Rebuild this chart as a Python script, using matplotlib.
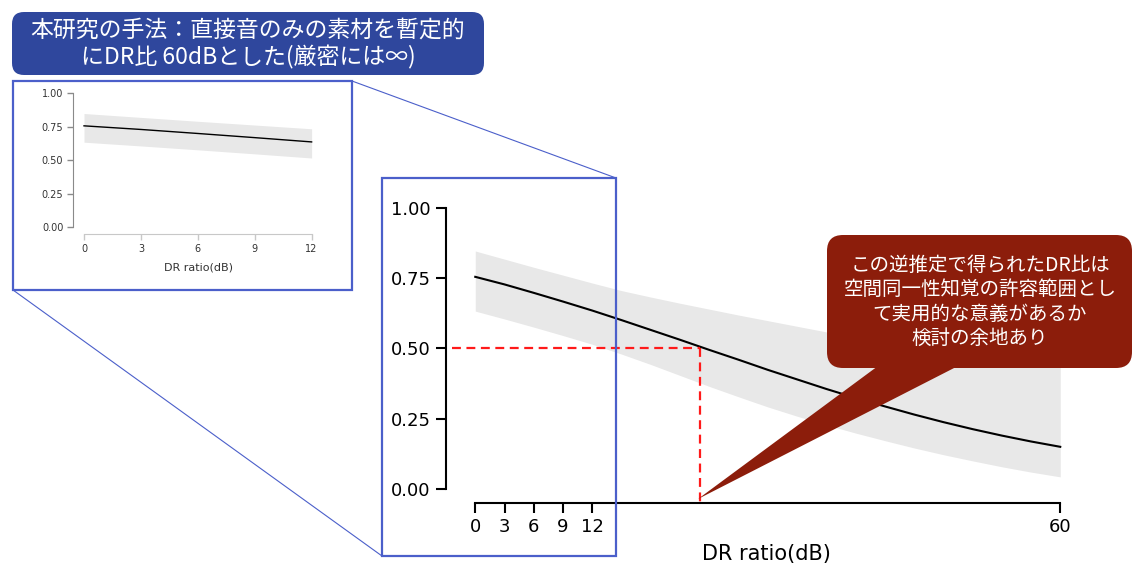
import matplotlib
matplotlib.use("Agg")
import matplotlib.pyplot as plt
from matplotlib.patches import FancyBboxPatch, Polygon, Rectangle

# 推定された確率曲線と95%信頼帯 (DR比 3dB刻み)
dr_db = [0, 3, 6, 9, 12, 15, 18, 21, 24, 27, 30, 33, 36, 39, 42, 45, 48, 51, 54, 57, 60]
prob = [0.755, 0.728, 0.698, 0.667, 0.635, 0.601, 0.566, 0.531, 0.495, 0.460, 0.424,
        0.390, 0.356, 0.324, 0.294, 0.265, 0.238, 0.213, 0.190, 0.169, 0.150]
ci_lo = [0.633, 0.605, 0.576, 0.546, 0.515, 0.480, 0.443, 0.404, 0.365, 0.328, 0.292,
         0.259, 0.228, 0.199, 0.172, 0.146, 0.122, 0.100, 0.079, 0.060, 0.043]
ci_hi = [0.847, 0.818, 0.789, 0.761, 0.733, 0.706, 0.683, 0.661, 0.640, 0.619, 0.599,
         0.579, 0.559, 0.541, 0.524, 0.508, 0.493, 0.479, 0.466, 0.454, 0.443]

yticks = [0.00, 0.25, 0.50, 0.75, 1.00]
main_xticks = [0, 3, 6, 9, 12, 60]
inset_xticks = [0, 3, 6, 9, 12]

# 逆推定: p = 0.5 となるDR比
dr_est = 23
p_est = 0.50

title_text = "本研究の手法：直接音のみの素材を暫定的\nにDR比 60dBとした(厳密には∞)"
note_text = "この逆推定で得られたDR比は\n空間同一性知覚の許容範囲とし\nて実用的な意義があるか\n検討の余地あり"
xlabel = "DR ratio(dB)"

W, H = 1134, 567
JP = ["Noto Sans CJK JP", "DejaVu Sans"]
BAND = "#e8e8e8"
FRAME = "#4b5fca"

fig = plt.figure(figsize=(W / 100, H / 100), dpi=100)


def px_axes(left, top, right, bottom):
    """ピクセル座標(左上原点)からaxesを作る"""
    return fig.add_axes([left / W, 1 - bottom / H, (right - left) / W, (bottom - top) / H])


# ---- メインの図 ----
ax = px_axes(446, 208, 1070, 503)
ax.fill_between(dr_db, ci_lo, ci_hi, color=BAND, lw=0)
ax.plot(dr_db, prob, color="black", lw=1.5)
ax.plot([-2.4, dr_est], [p_est, p_est], color="#ff1a1a", lw=1.6, dashes=(4, 2.5))
ax.plot([dr_est, dr_est], [p_est, -0.05], color="#ff1a1a", lw=1.6, dashes=(4, 2.5),
        clip_on=False)
ax.set_xlim(-3, 61)
ax.set_ylim(-0.05, 1.0)
ax.set_xticks(main_xticks)
ax.set_yticks(yticks)
ax.set_yticklabels([f"{v:.2f}" for v in yticks])
for s in ["top", "right"]:
    ax.spines[s].set_visible(False)
ax.spines["left"].set_bounds(0, 1)
ax.spines["bottom"].set_bounds(0, 60)
for s in ["left", "bottom"]:
    ax.spines[s].set_linewidth(1.5)
ax.tick_params(length=7, width=1.5, labelsize=13, pad=4)
ax.set_xlabel(xlabel, fontsize=15)
ax.xaxis.set_label_coords(0.513, -0.14)
ax.patch.set_alpha(0)

# ---- 左上の元の図 (0-12dB) ----
n12 = dr_db.index(12) + 1
axi = px_axes(73, 93, 323, 234)
axi.fill_between(dr_db[:n12], ci_lo[:n12], ci_hi[:n12], color=BAND, lw=0)
axi.plot(dr_db[:n12], prob[:n12], color="black", lw=1.0)
axi.set_xlim(-0.58, 12.6)
axi.set_ylim(-0.052, 1.0)
axi.set_xticks(inset_xticks)
axi.set_yticks(yticks)
axi.set_yticklabels([f"{v:.2f}" for v in yticks])
for s in ["top", "right"]:
    axi.spines[s].set_visible(False)
axi.spines["left"].set_bounds(0, 1)
axi.spines["bottom"].set_bounds(0, 12)
axi.spines["left"].set_color("#8a8a8a")
axi.spines["bottom"].set_color("#c8c8c8")
axi.tick_params(axis="y", colors="#8a8a8a", labelcolor="#333333")
axi.tick_params(axis="x", colors="#c8c8c8", labelcolor="#333333")
axi.tick_params(length=4, width=1, labelsize=7, pad=3)
axi.set_xlabel(xlabel, fontsize=8, color="#333333", labelpad=6)

# ---- 枠・吹き出しなど (ピクセル座標の重ね書き用axes) ----
ov = fig.add_axes([0, 0, 1, 1], zorder=10)
ov.set_xlim(0, W)
ov.set_ylim(H, 0)
ov.axis("off")
ov.patch.set_alpha(0)

ov.add_patch(Rectangle((13, 81), 339, 209, fill=False, ec=FRAME, lw=1.6))
ov.add_patch(Rectangle((382, 178), 234, 378, fill=False, ec=FRAME, lw=1.6))
ov.plot([352, 616], [81, 178], color=FRAME, lw=0.8)
ov.plot([13, 382], [290, 556], color=FRAME, lw=0.8)

ov.add_patch(FancyBboxPatch((12, 12), 472, 63, boxstyle="round,pad=0,rounding_size=12",
                            fc="#2f479d", ec="none"))
ov.text(248, 44, title_text, family=JP, fontsize=16.5, color="white",
        ha="center", va="center", linespacing=1.2)

callout = "#8c1d0b"
ov.add_patch(Polygon([(878, 366), (958, 366), (698, 499)], closed=True, fc=callout, ec="none"))
ov.add_patch(FancyBboxPatch((827, 235), 305, 133, boxstyle="round,pad=0,rounding_size=16",
                            fc=callout, ec="none"))
ov.text(980, 302, note_text, family=JP, fontsize=14, color="white",
        ha="center", va="center", linespacing=1.2)

fig.savefig("out.png", dpi=100)
